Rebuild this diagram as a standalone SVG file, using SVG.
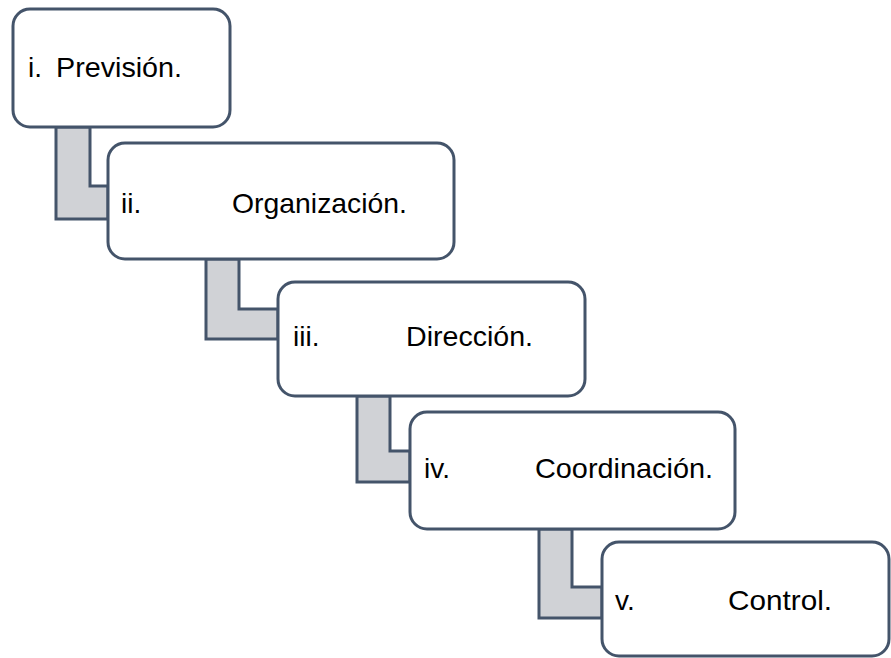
<svg xmlns="http://www.w3.org/2000/svg" width="891" height="658" viewBox="0 0 891 658">
  <style>
    .box { fill: #FFFFFF; stroke: #44546A; stroke-width: 3; }
    .link { fill: #D0D2D6; stroke: #44546A; stroke-width: 3; stroke-linejoin: miter; }
    .label { font-family: "Liberation Sans", Arial, sans-serif; font-size: 28px; fill: #000000; }
  </style>
  <rect width="891" height="658" fill="#FFFFFF"/>

  <!-- elbow connectors between consecutive steps -->
  <g id="connectors">
    <polygon class="link" points="56,127 90,127 90,186 108,186 108,219 56,219"/>
    <polygon class="link" points="206,259 239,259 239,309 278,309 278,339 206,339"/>
    <polygon class="link" points="357,396 390,396 390,451 410,451 410,482 357,482"/>
    <polygon class="link" points="539,529 572,529 572,587 602,587 602,618 539,618"/>
  </g>

  <g id="step1">
    <rect class="box" x="13" y="9" width="217" height="118" rx="17"/>
    <text class="label" x="28" y="77">i.</text>
    <text class="label" x="56" y="77" textLength="126" lengthAdjust="spacingAndGlyphs">Previsión.</text>
  </g>

  <g id="step2">
    <rect class="box" x="108" y="143" width="346" height="116" rx="17"/>
    <text class="label" x="121" y="213">ii.</text>
    <text class="label" x="232" y="213" textLength="175" lengthAdjust="spacingAndGlyphs">Organización.</text>
  </g>

  <g id="step3">
    <rect class="box" x="278" y="282" width="307" height="114" rx="17"/>
    <text class="label" x="293" y="346">iii.</text>
    <text class="label" x="406" y="346" textLength="127" lengthAdjust="spacingAndGlyphs">Dirección.</text>
  </g>

  <g id="step4">
    <rect class="box" x="410" y="412" width="325" height="117" rx="17"/>
    <text class="label" x="424" y="478">iv.</text>
    <text class="label" x="535" y="478" textLength="178" lengthAdjust="spacingAndGlyphs">Coordinación.</text>
  </g>

  <g id="step5">
    <rect class="box" x="602" y="542" width="287" height="114" rx="17"/>
    <text class="label" x="615" y="610">v.</text>
    <text class="label" x="728" y="610" textLength="104" lengthAdjust="spacingAndGlyphs">Control.</text>
  </g>
</svg>
